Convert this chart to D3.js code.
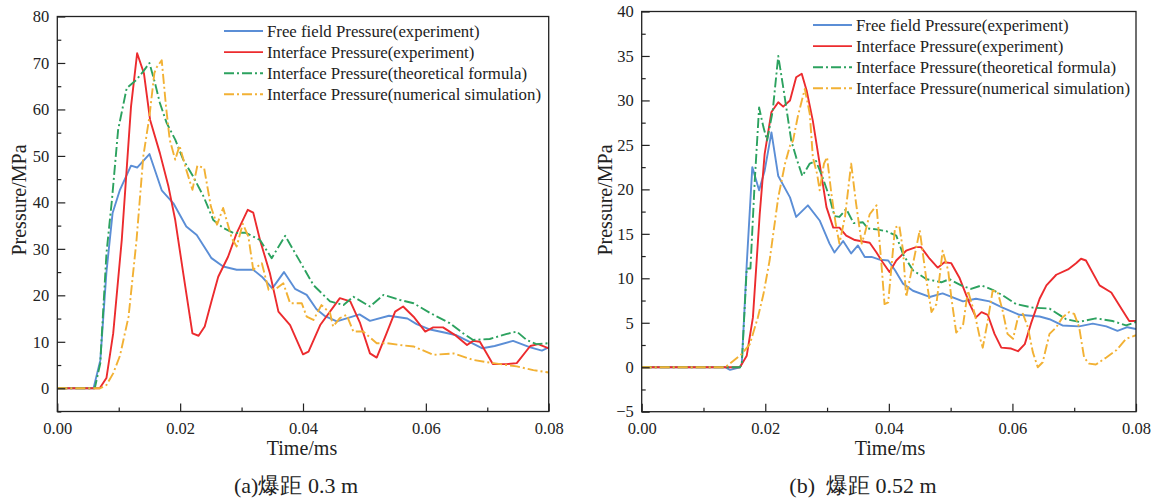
<!DOCTYPE html>
<meta charset="utf-8">
<head>
  <title>interface pressure</title>
</head>
<style>
  body { margin: 0; background: #fff; }
  svg text { font-family: "Liberation Serif", "DejaVu Serif", serif; fill: #222; }
  .frame { fill: none; stroke: #222; stroke-width: 1.3; }
  .tick line { stroke: #222; stroke-width: 1.2; }
  .series { fill: none; stroke-width: 1.9; stroke-linejoin: round; }
</style>
<body>
  <svg width="1156" height="501"></svg>

  <script src="https://cdnjs.cloudflare.com/ajax/libs/d3/7.8.5/d3.min.js"></script>
  <script>
    var seriesNames = ['Free field Pressure(experiment)', 'Interface Pressure(experiment)',
      'Interface Pressure(theoretical formula)', 'Interface Pressure(numerical simulation)']
    var colors = ['#5b8ed6', '#ec2b2e', '#2ca25f', '#f2b134']
    var dashes = [null, null, '10,3,2,3', '10,3,2,3']

    var xTicks = [0, 0.02, 0.04, 0.06, 0.08]

    // (a) 0.3 m
    var freeA = [[0, 0], [0.0059, 0], [0.0070, 6], [0.0080, 25], [0.0090, 37.7], [0.0102, 42.7], [0.0120, 47.9],
      [0.0130, 47.5], [0.0150, 50.4], [0.0170, 42.6], [0.0189, 39.8], [0.0210, 34.8], [0.0227, 33], [0.0251, 28],
      [0.0270, 26.2], [0.0292, 25.5], [0.0319, 25.5], [0.0333, 24], [0.0350, 21.5], [0.0369, 25], [0.0387, 21.4],
      [0.0406, 20.1], [0.0422, 17], [0.0435, 15.6], [0.0455, 14.4], [0.0475, 15.2], [0.0492, 15.9], [0.0509, 14.5],
      [0.0540, 15.6], [0.0570, 15], [0.0585, 13.8], [0.0605, 12.7], [0.0630, 12], [0.0650, 11.4], [0.0668, 10.2],
      [0.0692, 8.6], [0.0712, 9.1], [0.0742, 10.2], [0.0770, 8.8], [0.0789, 8.1], [0.080, 8.8]]
    var interA = [[0, 0], [0.0069, 0], [0.0080, 2.2], [0.0091, 11.8], [0.0105, 32], [0.0120, 60.6], [0.0130, 72.1],
      [0.0141, 67.8], [0.0151, 57.8], [0.0167, 50.6], [0.0181, 43.4], [0.0192, 36.2], [0.0205, 24.8], [0.0220, 11.8],
      [0.0230, 11.3], [0.0240, 13.3], [0.0251, 18.7], [0.0262, 24], [0.0278, 28.3], [0.0292, 33.4], [0.0310, 38.4],
      [0.0319, 37.8], [0.0330, 31.9], [0.0346, 24.8], [0.0360, 16.5], [0.0379, 13.6], [0.0400, 7.3], [0.0409, 7.9],
      [0.0428, 13.6], [0.0460, 19.4], [0.0477, 18.7], [0.0493, 14], [0.0509, 7.5], [0.0520, 6.6], [0.0536, 11.8],
      [0.0550, 16.5], [0.0563, 17.6], [0.0580, 15.4], [0.0599, 12.2], [0.0612, 13.1], [0.0628, 13.1], [0.0647, 11.5],
      [0.0667, 9.3], [0.0677, 10.2], [0.0688, 10], [0.0709, 5.2], [0.0732, 5.2], [0.0748, 5.4], [0.0770, 9.1],
      [0.0783, 9.5], [0.080, 8.6]]
    var theoryA = [[0, 0], [0.0061, 0], [0.0070, 5.4], [0.0072, 10.4], [0.0080, 29], [0.0089, 40.6], [0.0099, 55.6],
      [0.0113, 64.6], [0.0129, 66.4], [0.0140, 68.2], [0.0150, 70], [0.0159, 65.7], [0.0167, 61.4], [0.0178, 57.1],
      [0.0192, 53.5], [0.0205, 49.2], [0.0221, 45.6], [0.0238, 41.3], [0.0254, 36.2], [0.0270, 34.5], [0.0287, 33.4],
      [0.0306, 33.5], [0.0330, 31.9], [0.0349, 28], [0.0371, 32.8], [0.0395, 27.3], [0.0417, 22.2], [0.0444, 18.7],
      [0.0466, 17.9], [0.0482, 19.7], [0.0509, 17.6], [0.0531, 20.1], [0.0558, 19], [0.0580, 18.3], [0.0607, 16.2],
      [0.0639, 14], [0.0661, 11.8], [0.0677, 10.4], [0.0704, 10.6], [0.0732, 11.7], [0.0748, 12.2], [0.0764, 10.4],
      [0.0780, 9.5], [0.080, 9.7]]
    var numA = [[0, 0], [0.0070, 0], [0.0080, 0.7], [0.0091, 3.2], [0.0102, 7], [0.0116, 15.4], [0.0129, 31.9],
      [0.0140, 49.9], [0.0150, 58.5], [0.0158, 67.8], [0.0161, 68.9], [0.0170, 70.6], [0.0177, 60.6], [0.0183, 53.5],
      [0.0192, 49.2], [0.0199, 52.2], [0.0210, 47], [0.0220, 42.7], [0.0228, 47.9], [0.0239, 47.4], [0.0250, 39.1],
      [0.0260, 35.2], [0.0270, 38.8], [0.0284, 32.3], [0.0292, 30.5], [0.0302, 35.4], [0.0311, 32.7], [0.0319, 25.5],
      [0.0333, 26.9], [0.0344, 21.2], [0.0357, 21.5], [0.0368, 22.6], [0.0379, 18.3], [0.0398, 18.3], [0.0406, 15.4],
      [0.0417, 14.7], [0.0430, 17.9], [0.0444, 16.2], [0.0449, 13.3], [0.0460, 15.1], [0.0471, 15.8], [0.0482, 12.2],
      [0.0498, 12.2], [0.0520, 9.7], [0.0536, 9.7], [0.0558, 9.3], [0.0580, 9.0], [0.0612, 7.2], [0.0645, 7.5],
      [0.0677, 6.1], [0.0710, 5.4], [0.0748, 4.7], [0.0775, 3.9], [0.080, 3.4]]

    // (b) 0.52 m
    var freeB = [[0, 0], [0.0135, 0], [0.0143, -0.3], [0.0159, 0], [0.0162, 0.4], [0.0170, 11.6], [0.0179, 22.5],
      [0.0190, 19.9], [0.0199, 22.1], [0.0210, 26.4], [0.0221, 21.5], [0.0240, 19.1], [0.0250, 16.9], [0.0269, 18.2],
      [0.0288, 16.5], [0.0304, 13.9], [0.0312, 12.9], [0.0326, 14.2], [0.0339, 12.8], [0.0350, 13.7], [0.0361, 12.4],
      [0.0372, 12.4], [0.0385, 12.1], [0.0399, 12.0], [0.0410, 10.9], [0.0423, 9.4], [0.0439, 8.6], [0.0466, 7.9],
      [0.0487, 8.3], [0.0520, 7.4], [0.0541, 7.7], [0.0563, 7.4], [0.0584, 6.7], [0.0611, 5.9], [0.0644, 5.7],
      [0.0660, 5.4], [0.0681, 4.7], [0.0708, 4.6], [0.0730, 4.9], [0.0752, 4.6], [0.0770, 4.1], [0.0786, 4.5],
      [0.080, 4.3]]
    var interB = [[0, 0], [0.0159, 0], [0.0170, 1.3], [0.0180, 5.6], [0.0191, 17.2], [0.0199, 24], [0.0210, 28.7],
      [0.0221, 29.8], [0.0229, 29.3], [0.0240, 30], [0.0250, 32.6], [0.0259, 33], [0.0267, 31.1], [0.0277, 27.7],
      [0.0288, 22.9], [0.0299, 18], [0.0310, 15.7], [0.0320, 15.7], [0.0331, 14.8], [0.0345, 14.3], [0.0369, 14.0],
      [0.0380, 12.9], [0.0390, 11.8], [0.0401, 10.7], [0.0412, 12.0], [0.0428, 13.1], [0.0444, 13.5], [0.0452, 13.5],
      [0.0466, 12.2], [0.0479, 11.2], [0.0490, 11.8], [0.0501, 11.7], [0.0514, 10.1], [0.0531, 7.1], [0.0541, 5.6],
      [0.0550, 6.2], [0.0560, 5.9], [0.0571, 3.75], [0.0582, 2.2], [0.0598, 2.1], [0.0609, 1.8], [0.0620, 2.6],
      [0.0630, 4.9], [0.0644, 7.7], [0.0655, 9.2], [0.0671, 10.4], [0.0690, 11.0], [0.0703, 11.7], [0.0711, 12.2],
      [0.0719, 12.0], [0.0741, 9.2], [0.0760, 8.4], [0.0778, 6.4], [0.0789, 5.2], [0.080, 5.2]]
    var theoryB = [[0, 0], [0.0159, 0], [0.0162, 0.4], [0.0167, 7.1], [0.0170, 11.1], [0.0176, 11.1], [0.0183, 21],
      [0.0190, 29.2], [0.0197, 27], [0.0203, 25.5], [0.0212, 28.8], [0.0221, 35], [0.0229, 31.5], [0.0242, 25.5],
      [0.0250, 23.6], [0.0260, 21.5], [0.0272, 22.9], [0.0282, 23.2], [0.0293, 21.3], [0.0304, 19.1], [0.0312, 17],
      [0.0320, 16.9], [0.0331, 17.8], [0.0343, 16.2], [0.0358, 16.3], [0.0366, 15.6], [0.0380, 15.5], [0.0396, 15.3],
      [0.0412, 14.8], [0.0423, 12.7], [0.0439, 10.9], [0.0461, 9.9], [0.0485, 9.55], [0.0498, 9.9], [0.0517, 9.2],
      [0.0533, 8.8], [0.0550, 9.2], [0.0568, 8.7], [0.0584, 8.1], [0.0606, 7.1], [0.0633, 6.7], [0.0660, 6.6],
      [0.0687, 5.4], [0.0708, 5.1], [0.0735, 5.5], [0.0762, 5.2], [0.0784, 4.7], [0.080, 5.1]]
    var numB = [[0, 0], [0.0135, 0], [0.0148, 0.7], [0.0162, 1.5], [0.0175, 2.6], [0.0188, 5.6], [0.0197, 8.2],
      [0.0207, 12], [0.0221, 19.1], [0.0232, 22.9], [0.0240, 24.9], [0.0245, 25.5], [0.0253, 28.3], [0.0264, 31.3],
      [0.0272, 28.5], [0.0277, 23.6], [0.0284, 21.7], [0.0288, 19.9], [0.0295, 22.9], [0.0300, 23.6], [0.0307, 19.5],
      [0.0314, 16.1], [0.0320, 13.9], [0.0329, 16.9], [0.0339, 22.9], [0.0347, 18.4], [0.0356, 13.9], [0.0361, 15],
      [0.0369, 17.2], [0.0380, 18.2], [0.0388, 11.6], [0.0393, 7.1], [0.0399, 7.3], [0.0410, 15.7], [0.0417, 15.9],
      [0.0423, 13.1], [0.0428, 7.9], [0.0439, 11.6], [0.0450, 15.4], [0.0461, 9.7], [0.0469, 6.2], [0.0477, 7.1],
      [0.0487, 13.1], [0.0496, 10.9], [0.0501, 7.9], [0.0509, 3.9], [0.0520, 4.7], [0.0528, 8.6], [0.0539, 6],
      [0.0547, 3.4], [0.0552, 2.2], [0.0560, 5.2], [0.0568, 8.6], [0.0576, 8.5], [0.0584, 6.4], [0.0592, 3.75],
      [0.0601, 3.2], [0.0609, 5.6], [0.0617, 6], [0.0625, 4.5], [0.0633, 1.7], [0.0641, 0], [0.0649, 0.56],
      [0.0660, 3.75], [0.0671, 4.5], [0.0681, 5.6], [0.0692, 6.2], [0.0700, 6], [0.0708, 4.5], [0.0716, 1.1],
      [0.0724, 0.4], [0.0735, 0.3], [0.0752, 1.1], [0.0768, 1.9], [0.0784, 3.2], [0.080, 3.6]]

    var panels = [
      { series: [freeA, interA, theoryA, numA], left: 57.3, right: 548.7, top: 16.5, bottom: 411.5,
        yDomain: [-5, 80], yTicks: d3.range(0, 81, 10), yMinor: d3.range(-5, 81, 5),
        legendX: 224, legendY: 31, caption: '(a)爆距 0.3 m', ytitleX: 19, xtitleX: 302, captionX: 296 },
      { series: [freeB, interB, theoryB, numB], left: 641.7, right: 1136, top: 11.5, bottom: 411.7,
        yDomain: [-5, 40], yTicks: d3.range(-5, 41, 5), yMinor: d3.range(-5, 41, 2.5),
        legendX: 813, legendY: 25, caption: '(b)  爆距 0.52 m', ytitleX: 605, xtitleX: 890, captionX: 863 }
    ]

    var svg = d3.select('svg')

    panels.forEach(function(p) {
      var x = d3.scaleLinear().domain([0, 0.08]).range([p.left, p.right])
      var y = d3.scaleLinear().domain(p.yDomain).range([p.bottom, p.top])
      var g = svg.append('g')

      // clip so lines stay inside the frame
      var id = 'clip' + Math.round(p.left)
      g.append('clipPath').attr('id', id).append('rect')
        .attr('x', p.left).attr('y', p.top).attr('width', p.right - p.left).attr('height', p.bottom - p.top)

      var line = d3.line()
        .x(function(d) { return x(d[0]) })
        .y(function(d) { return y(d[1]) })

      g.selectAll('.series')
        .data(p.series)
        .enter()
        .append('path')
        .attr('class', 'series')
        .attr('clip-path', 'url(#' + id + ')')
        .attr('stroke', function(d, i) { return colors[i] })
        .attr('stroke-dasharray', function(d, i) { return dashes[i] })
        .attr('d', line)

      // axes, ticks pointing inward
      var xa = g.append('g').attr('transform', 'translate(0,' + p.bottom + ')')
        .call(d3.axisBottom(x).tickValues(xTicks).tickSize(-8).tickPadding(11).tickFormat(d3.format('.2f')))
      var xm = g.append('g').attr('transform', 'translate(0,' + p.bottom + ')')
        .call(d3.axisBottom(x).tickValues([0.01, 0.03, 0.05, 0.07]).tickSize(-4).tickFormat(''))
      var ya = g.append('g').attr('transform', 'translate(' + p.left + ',0)')
        .call(d3.axisLeft(y).tickValues(p.yTicks).tickSize(-8).tickPadding(8))
      var ym = g.append('g').attr('transform', 'translate(' + p.left + ',0)')
        .call(d3.axisLeft(y).tickValues(p.yMinor.filter(function(v) { return p.yTicks.indexOf(v) < 0 }))
          .tickSize(-4).tickFormat(''))
      ;[xa, xm, ya, ym].forEach(function(a) {
        a.select('.domain').remove()
        a.selectAll('text').style('font-size', '16.5px').attr('font-family', null)
      })

      g.append('rect').attr('class', 'frame')
        .attr('x', p.left).attr('y', p.top).attr('width', p.right - p.left).attr('height', p.bottom - p.top)

      // legend
      var lg = g.append('g')
      seriesNames.forEach(function(name, i) {
        var ly = p.legendY + i * 21.1
        lg.append('line')
          .attr('x1', p.legendX).attr('x2', p.legendX + 39).attr('y1', ly).attr('y2', ly)
          .attr('stroke', colors[i]).attr('stroke-width', 1.9).attr('stroke-dasharray', dashes[i])
        lg.append('text')
          .attr('x', p.legendX + 43).attr('y', ly + 5.5)
          .style('font-size', '16.8px')
          .text(name)
      })

      g.append('text')
        .attr('transform', 'translate(' + (p.ytitleX + 7) + ',200) rotate(-90)')
        .attr('text-anchor', 'middle')
        .style('font-size', '20px')
        .text('Pressure/MPa')
      g.append('text')
        .attr('x', p.xtitleX).attr('y', 455)
        .attr('text-anchor', 'middle')
        .style('font-size', '20px')
        .text('Time/ms')
      g.append('text')
        .attr('x', p.captionX).attr('y', 493)
        .attr('text-anchor', 'middle')
        .style('font-size', '22px')
        .style('white-space', 'pre')
        .text(p.caption)
    })
  </script>
</body>
</html>
